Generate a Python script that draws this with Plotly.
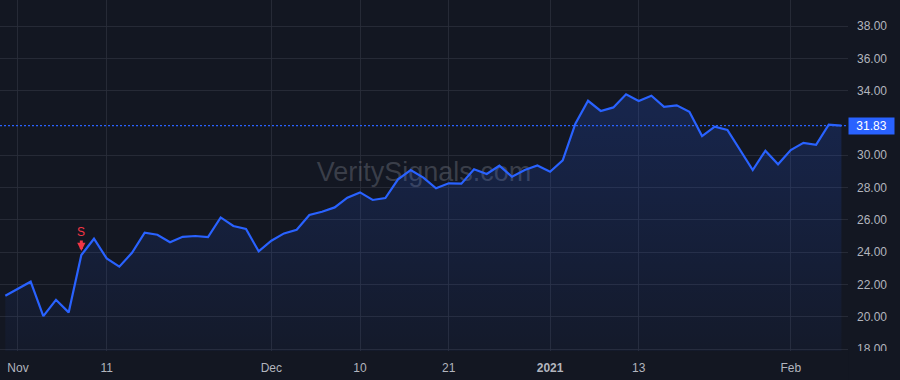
import plotly.graph_objects as go

# ---- data ----
dates = [
    "2020-10-30",
    "2020-11-02", "2020-11-03", "2020-11-04", "2020-11-05", "2020-11-06",
    "2020-11-09", "2020-11-10", "2020-11-11", "2020-11-12", "2020-11-13",
    "2020-11-16", "2020-11-17", "2020-11-18", "2020-11-19", "2020-11-20",
    "2020-11-23", "2020-11-24", "2020-11-25", "2020-11-27", "2020-11-30",
    "2020-12-01", "2020-12-02", "2020-12-03", "2020-12-04",
    "2020-12-07", "2020-12-08", "2020-12-09", "2020-12-10", "2020-12-11",
    "2020-12-14", "2020-12-15", "2020-12-16", "2020-12-17", "2020-12-18",
    "2020-12-21", "2020-12-22", "2020-12-23", "2020-12-24",
    "2020-12-28", "2020-12-29", "2020-12-30", "2020-12-31",
    "2021-01-04", "2021-01-05", "2021-01-06", "2021-01-07", "2021-01-08",
    "2021-01-11", "2021-01-12", "2021-01-13", "2021-01-14", "2021-01-15",
    "2021-01-19", "2021-01-20", "2021-01-21", "2021-01-22",
    "2021-01-25", "2021-01-26", "2021-01-27", "2021-01-28", "2021-01-29",
    "2021-02-01", "2021-02-02", "2021-02-03", "2021-02-04", "2021-02-05",
]
prices = [
    21.30,
    21.73, 22.17, 20.04, 21.05, 20.27,
    23.82, 24.83, 23.61, 23.10, 23.96,
    25.20, 25.08, 24.61, 24.95, 25.00,
    24.93, 26.15, 25.62, 25.43, 24.05,
    24.71, 25.16, 25.39, 26.30,
    26.50, 26.77, 27.37, 27.70, 27.23,
    27.35, 28.51, 29.08, 28.61, 27.95,
    28.26, 28.24, 29.13, 28.84,
    29.35, 28.67, 29.08, 29.37,
    28.98, 29.68, 31.95, 33.37, 32.74,
    32.96, 33.77, 33.36, 33.68, 33.00,
    33.09, 32.69, 31.19, 31.77,
    31.56, 30.30, 29.08, 30.28, 29.44,
    30.32, 30.77, 30.65, 31.89, 31.83,
]
last_price = 31.83

x_tick_dates = ["2020-11-02", "2020-11-11", "2020-12-01", "2020-12-10",
                "2020-12-21", "2021-01-04", "2021-01-13", "2021-02-01"]
x_tick_labels = ["Nov", "11", "Dec", "10", "21", "<b>2021</b>", "13", "Feb"]

y_tick_vals = [18, 20, 22, 24, 26, 28, 30, 34, 36, 38]
y_tick_labels = [f"{v:.2f}" for v in y_tick_vals]

signal_dates = ["2020-11-09"]
signal_labels = ["S"]

watermark = "VeritySignals.com"

# ---- style ----
BG = "#131722"
GRID = "rgba(42,46,57,0.85)"
BLUE = "#2962FF"
TXT = "#B2B5BE"
RED = "#F23645"
FONT = "Liberation Sans, Arial, sans-serif"

x_range = [-0.42, len(dates) - 1 + 0.52]
y_range = [17.88, 39.61]

fig = go.Figure()

# watermark (drawn first, beneath the series)
fig.add_trace(go.Scatter(
    x=[(x_range[0] + x_range[1]) / 2], y=[(y_range[0] + y_range[1]) / 2 + 0.1],
    mode="text", text=[watermark],
    textfont=dict(family=FONT, size=27, color="rgba(125,129,140,0.38)"),
    hoverinfo="skip", showlegend=False,
))

fig.add_trace(go.Scatter(
    x=list(range(len(dates))), y=prices,
    mode="lines",
    line=dict(color=BLUE, width=2.2),
    fill="tozeroy",
    fillgradient=dict(
        type="vertical",
        colorscale=[[0, "rgba(41,98,255,0.04)"], [1, "rgba(41,98,255,0.20)"]],
        start=18, stop=34,
    ),
    hoverinfo="skip", showlegend=False,
))

fig.update_layout(
    width=900, height=380,
    margin=dict(l=0, r=52, t=0, b=29),
    paper_bgcolor=BG, plot_bgcolor=BG,
    font=dict(family=FONT, size=12, color=TXT),
    showlegend=False,
    xaxis=dict(
        range=x_range,
        tickvals=[dates.index(d) for d in x_tick_dates],
        ticktext=x_tick_labels,
        showgrid=True, gridcolor=GRID, gridwidth=1,
        zeroline=False, showline=False, ticks="",
        ticklabelstandoff=8,
        tickfont=dict(size=12, color=TXT),
        fixedrange=True,
    ),
    yaxis=dict(
        range=y_range, side="right",
        tickvals=y_tick_vals, ticktext=y_tick_labels,
        showgrid=True, gridcolor=GRID, gridwidth=1,
        zeroline=False, showline=False, ticks="",
        ticklabelstandoff=8,
        tickfont=dict(size=12, color=TXT),
        fixedrange=True,
    ),
)

# last price dotted line
fig.add_shape(
    type="line", xref="x domain", yref="y",
    x0=0, x1=1, y0=last_price, y1=last_price,
    line=dict(color=BLUE, width=1.2, dash="2px,2px"),
    layer="above",
)

# price scale is clipped at the bottom of the pane
fig.add_shape(
    type="rect", xref="paper", yref="paper",
    x0=1.0005, x1=1.08, y0=-0.2, y1=0.0,
    fillcolor=BG, line=dict(width=0), layer="above",
)

# last price label on the axis
fig.add_annotation(
    xref="paper", yref="y", x=1, y=last_price,
    xanchor="left", yanchor="middle",
    text=f"{last_price:.2f}", showarrow=False,
    font=dict(family=FONT, size=12, color="#FFFFFF"),
    bgcolor=BLUE, borderpad=1, width=43, height=14, align="center",
)

# signal markers
for d, lab in zip(signal_dates, signal_labels):
    i = dates.index(d)
    fig.add_annotation(
        x=i, y=prices[i], text=lab,
        showarrow=True, arrowhead=2, arrowsize=0.55, arrowwidth=3,
        arrowcolor=RED, ax=0, ay=-23, standoff=4,
        font=dict(family=FONT, size=12, color=RED),
    )

fig.write_html("out.html", config={"displayModeBar": False})
